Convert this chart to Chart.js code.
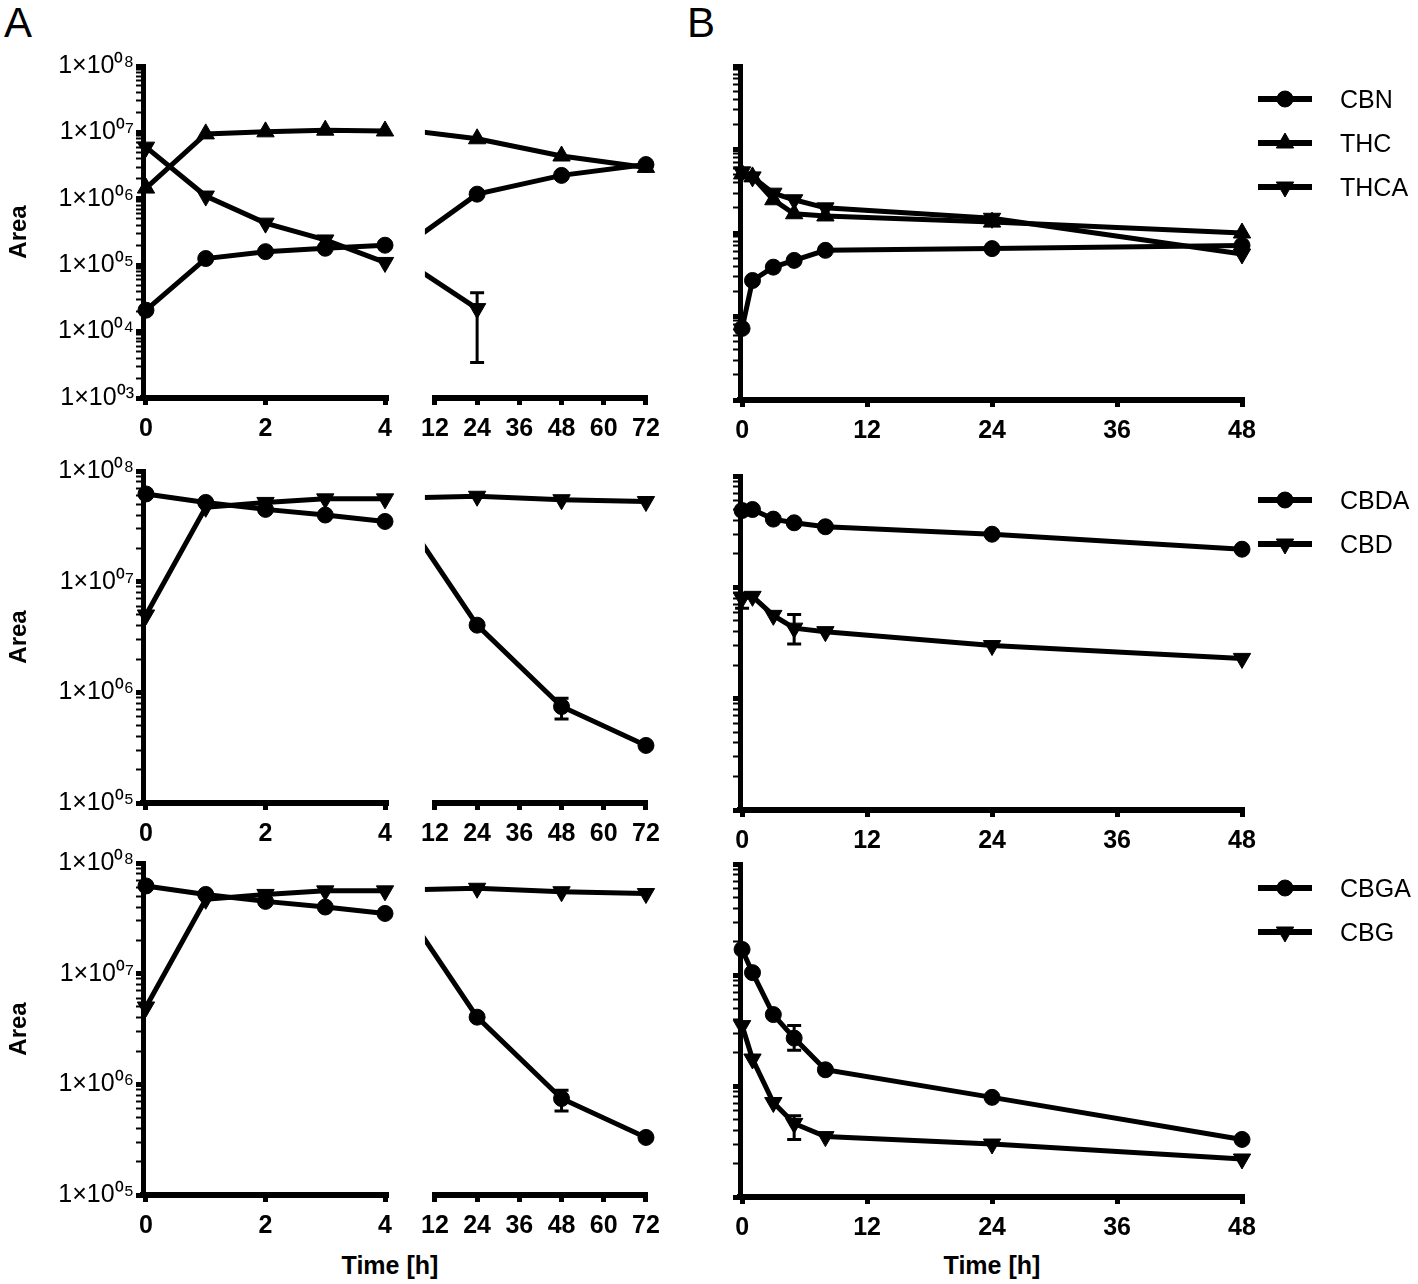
<!DOCTYPE html>
<html>
<head>
<meta charset="utf-8">
<script src="https://cdn.jsdelivr.net/npm/chart.js@4.4.1/dist/chart.umd.min.js"></script>
<style>
  body { margin: 0; width: 1418px; height: 1284px; background: #fff; position: relative; overflow: hidden;
         font-family: 'Liberation Sans', Arial, sans-serif; color: #000; }
  .box { position: absolute; }
  .letter { position: absolute; font-size: 42px; line-height: 42px; }
  .xtitle { position: absolute; width: 200px; text-align: center; font-family: 'Liberation Sans Narrow', 'Liberation Sans', sans-serif;
            font-weight: bold; font-size: 25px; line-height: 28px; }
  .legend-item { position: absolute; height: 30px; display: flex; align-items: center; font-size: 25px;
                 font-family: 'Liberation Sans Narrow', 'Liberation Sans', sans-serif; white-space: nowrap; }
  .legend-item canvas { margin-right: 27px; }
</style>
</head>
<body>
<div class="letter" style="left:4px; top:2px;">A</div>
<div class="letter" style="left:687px; top:2px;">B</div>
<div class="xtitle" style="left:290px; top:1251px;">Time [h]</div>
<div class="xtitle" style="left:892px; top:1251px;">Time [h]</div>

<script>
// time points (h)
const timeA = [0, 1, 2, 3, 4, 24, 48, 72];
const timeB = [0, 1, 3, 5, 8, 24, 48];

// x tick labels
const ticksAshort = [0, 2, 4];
const ticksAlong = [12, 24, 36, 48, 60, 72];
const ticksB = [0, 12, 24, 36, 48];

// row 1 - panel A
const cbnA = [2.1e4, 1.26e5, 1.6e5, 1.8e5, 2.0e5, 1.15e6, 2.2e6, 3.2e6];
const thcA = [1.45e6, 9.5e6, 1.02e7, 1.08e7, 1.05e7, 7.8e6, 4.3e6, 2.9e6];
const thcaA = [6.0e6, 1.1e6, 4.3e5, 2.4e5, 1.1e5, 2.2e4, null, null];
const thcaAlo = [null, null, null, null, null, 3.4e3, null, null];
const thcaAhi = [null, null, null, null, null, 3.8e4, null, null];

// row 1 - panel B
const cbnB = [7.2e4, 2.7e5, 3.9e5, 4.7e5, 6.2e5, 6.5e5, 7.1e5];
const thcB = [5.1e6, 4.7e6, 2.5e6, 1.7e6, 1.6e6, 1.35e6, 1.0e6];
const thcaB = [5.4e6, 4.7e6, 3.0e6, 2.5e6, 2.0e6, 1.5e6, 5.6e5];

// row 2 - panel A
const cbdaA = [6.2e7, 5.2e7, 4.5e7, 4.0e7, 3.5e7, 4.0e6, 7.4e5, 3.3e5];
const cbdaAlo = [null, null, null, null, null, null, 5.7e5, null];
const cbdaAhi = [null, null, null, null, null, null, 8.8e5, null];
const cbdA = [5.0e6, 4.7e7, 5.2e7, 5.6e7, 5.6e7, 5.8e7, 5.4e7, 5.2e7];

// row 2 - panel B
const cbdaB = [4.9e7, 5.0e7, 4.1e7, 3.8e7, 3.5e7, 3.0e7, 2.2e7];
const cbdB = [8.0e6, 8.3e6, 5.6e6, 4.3e6, 4.0e6, 3.0e6, 2.3e6];
const cbdBlo = [6.5e6, null, null, 3.1e6, null, null, null];
const cbdBhi = [8.8e6, null, null, 5.7e6, null, null, null];

// row 3 - panel A (same curves as row 2 in the figure)
const cbgaA = [6.2e7, 5.2e7, 4.5e7, 4.0e7, 3.5e7, 4.0e6, 7.4e5, 3.3e5];
const cbgaAlo = [null, null, null, null, null, null, 5.7e5, null];
const cbgaAhi = [null, null, null, null, null, null, 8.8e5, null];
const cbgA = [5.0e6, 4.7e7, 5.2e7, 5.6e7, 5.6e7, 5.8e7, 5.4e7, 5.2e7];

// row 3 - panel B
const cbgaB = [1.7e7, 1.05e7, 4.4e6, 2.7e6, 1.4e6, 7.9e5, 3.3e5];
const cbgaBlo = [null, null, null, 2.1e6, null, null, null];
const cbgaBhi = [null, null, null, 3.5e6, null, null, null];
const cbgB = [3.5e6, 1.75e6, 7.1e5, 4.6e5, 3.5e5, 3.0e5, 2.2e5];
const cbgBlo = [null, null, null, 3.3e5, null, null, null];
const cbgBhi = [null, null, null, 5.4e5, null, null, null];

const SUP = '⁰¹²³⁴⁵⁶⁷⁸⁹';
const narrow = "'Liberation Sans Narrow', 'Liberation Sans', sans-serif";

function isPow10(v) {
  const l = Math.log10(v);
  return Math.abs(l - Math.round(l)) < 1e-9;
}

function powLabel(v) {
  const e = String(Math.round(Math.log10(v))).padStart(2, '0');
  return '1×10' + e.split('').map(d => SUP[+d]).join('');
}

function logTicks(lo, hi) {
  const out = [];
  for (let e = lo; e < hi; e++) {
    for (let m = 1; m < 10; m++) out.push({ value: Number(m + 'e' + e), major: m === 1 });
  }
  out.push({ value: Number('1e' + hi), major: true });
  return out;
}

function points(times, vals, lo, hi, keep) {
  return times.map((t, i) => ({ x: t, y: vals[i], lo: lo ? lo[i] : null, hi: hi ? hi[i] : null }))
    .filter(p => keep(p.x));
}

function series(label, style, times, vals, lo, hi, keep, clip) {
  const tri = style !== 'circle';
  return {
    label: label,
    data: points(times, vals, lo, hi, keep),
    borderColor: '#000',
    backgroundColor: '#000',
    borderWidth: 5,
    pointStyle: tri ? 'triangle' : 'circle',
    rotation: style === 'down' ? 180 : 0,
    pointRadius: tri ? 10 : 8,
    pointBorderWidth: 1,
    tension: 0,
    spanGaps: false,
    clip: clip === undefined ? false : clip
  };
}

const errorBars = {
  id: 'errorBars',
  beforeDatasetsDraw(chart) {
    const { ctx, scales: { x, y }, chartArea } = chart;
    ctx.save();
    ctx.strokeStyle = '#000';
    ctx.lineWidth = 3;
    chart.data.datasets.forEach(ds => {
      ds.data.forEach(p => {
        if (p.lo == null || p.hi == null) return;
        const px = x.getPixelForValue(p.x);
        if (px < chartArea.left - 10 || px > chartArea.right + 10) return;
        const y1 = y.getPixelForValue(p.lo), y2 = y.getPixelForValue(p.hi);
        ctx.beginPath();
        ctx.moveTo(px, y1); ctx.lineTo(px, y2);
        ctx.moveTo(px - 7, y1); ctx.lineTo(px + 7, y1);
        ctx.moveTo(px - 7, y2); ctx.lineTo(px + 7, y2);
        ctx.stroke();
      });
    });
    ctx.restore();
  }
};

// area = [left, top, right, bottom] of the plotting area in page pixels
function makeChart(area, cfg) {
  const yW = cfg.yW, xH = 50, padT = 16, padR = 20, padL = cfg.padL || 0;
  const left = area[0] - yW - padL, top = area[1] - padT;
  const w = area[2] - left + padR, h = area[3] - top + xH;
  const div = document.createElement('div');
  div.className = 'box';
  div.style.left = left + 'px';
  div.style.top = top + 'px';
  const cv = document.createElement('canvas');
  cv.width = w; cv.height = h;
  cv.style.width = w + 'px'; cv.style.height = h + 'px';
  div.appendChild(cv);
  document.body.appendChild(div);

  const yScale = {
    type: 'logarithmic',
    display: cfg.yDisplay,
    min: Number('1e' + cfg.yRange[0]),
    max: Number('1e' + cfg.yRange[1]),
    afterBuildTicks: s => { s.ticks = logTicks(cfg.yRange[0], cfg.yRange[1]); },
    afterFit: s => { s.width = yW; },
    border: { display: true, color: '#000', width: 5 },
    grid: {
      drawOnChartArea: false, drawTicks: true, tickLength: 7, tickColor: '#000',
      tickWidth: c => (c.tick && c.tick.major ? 5 : 2)
    },
    ticks: {
      autoSkip: false, color: '#000', padding: 2,
      font: { family: "'Liberation Sans', Arial, sans-serif", size: 25 },
      callback: v => (cfg.yLabels && isPow10(v) ? powLabel(v) : '')
    },
    title: {
      display: !!cfg.yTitle, text: cfg.yTitle || '', color: '#000', padding: { top: 2, bottom: 0 },
      font: { family: "'Liberation Sans', Arial, sans-serif", size: 24, weight: 'bold' }
    }
  };

  const xScale = {
    type: 'linear',
    min: cfg.xRange[0],
    max: cfg.xRange[1],
    afterBuildTicks: s => { s.ticks = cfg.xTicks.map(v => ({ value: v })); },
    afterFit: s => { s.height = xH; },
    border: { display: true, color: '#000', width: 6 },
    grid: { drawOnChartArea: false, drawTicks: true, tickLength: 7, tickWidth: 5, tickColor: '#000' },
    ticks: {
      autoSkip: false, color: '#000', padding: 9, maxRotation: 0,
      font: { family: narrow, size: 25, weight: 'bold' }
    }
  };

  return new Chart(cv, {
    type: 'line',
    data: { datasets: cfg.datasets },
    options: {
      responsive: false,
      animation: false,
      devicePixelRatio: 1,
      layout: { padding: { top: padT, right: padR, left: padL, bottom: 0 } },
      plugins: { legend: { display: false }, tooltip: { enabled: false } },
      scales: { x: xScale, y: yScale }
    },
    plugins: [errorBars]
  });
}

function legend(chart, x, y0, gap) {
  chart.data.datasets.forEach((ds, i) => {
    const row = document.createElement('div');
    row.className = 'legend-item';
    row.style.left = x + 'px';
    row.style.top = (y0 + i * gap - 15) + 'px';
    const c = document.createElement('canvas');
    c.width = 56; c.height = 30;
    const g = c.getContext('2d');
    g.strokeStyle = '#000';
    g.lineWidth = 6;
    g.beginPath(); g.moveTo(1, 15); g.lineTo(55, 15); g.stroke();
    g.fillStyle = '#000';
    g.lineWidth = 1;
    Chart.helpers.drawPoint(g, { pointStyle: ds.pointStyle, rotation: ds.rotation, radius: ds.pointRadius, borderWidth: 1 }, 28, 15);
    row.appendChild(c);
    row.appendChild(document.createTextNode(ds.label));
    document.body.appendChild(row);
  });
}

const early = t => t <= 4;
const late = t => t >= 4;
const all = () => true;
const lateClip = { left: 10, right: 12, top: 12, bottom: 12 };

const rows = [
  { top: 65, bottom: 398, bTop: 65, bBottom: 400, aRange: [3, 8], bRange: [4, 8],
    a: (keep, clip) => [
      series('CBN', 'circle', timeA, cbnA, null, null, keep, clip),
      series('THC', 'up', timeA, thcA, null, null, keep, clip),
      series('THCA', 'down', timeA, thcaA, thcaAlo, thcaAhi, keep, clip)
    ],
    b: [
      series('CBN', 'circle', timeB, cbnB, null, null, all),
      series('THC', 'up', timeB, thcB, null, null, all),
      series('THCA', 'down', timeB, thcaB, null, null, all)
    ],
    legendY: 99 },
  { top: 470, bottom: 803, bTop: 475, bBottom: 810, aRange: [5, 8], bRange: [5, 8],
    a: (keep, clip) => [
      series('CBDA', 'circle', timeA, cbdaA, cbdaAlo, cbdaAhi, keep, clip),
      series('CBD', 'down', timeA, cbdA, null, null, keep, clip)
    ],
    b: [
      series('CBDA', 'circle', timeB, cbdaB, null, null, all),
      series('CBD', 'down', timeB, cbdB, cbdBlo, cbdBhi, all)
    ],
    legendY: 500 },
  { top: 862, bottom: 1195, bTop: 863, bBottom: 1197, aRange: [5, 8], bRange: [5, 8],
    a: (keep, clip) => [
      series('CBGA', 'circle', timeA, cbgaA, cbgaAlo, cbgaAhi, keep, clip),
      series('CBG', 'down', timeA, cbgA, null, null, keep, clip)
    ],
    b: [
      series('CBGA', 'circle', timeB, cbgaB, cbgaBlo, cbgaBhi, all),
      series('CBG', 'down', timeB, cbgB, cbgBlo, cbgBhi, all)
    ],
    legendY: 888 }
];

rows.forEach(r => {
  // panel A, 0-4 h
  makeChart([143, r.top, 388, r.bottom], {
    yW: 140, yDisplay: true, yLabels: true, yTitle: 'Area', yRange: r.aRange,
    xRange: [-0.05, 4.05], xTicks: ticksAshort, datasets: r.a(early, false)
  });
  // panel A, 12-72 h
  makeChart([432, r.top, 649, r.bottom], {
    yW: 0, padL: 20, yDisplay: false, yLabels: false, yRange: r.aRange,
    xRange: [12, 72.5], xTicks: ticksAlong, datasets: r.a(late, lateClip)
  });
  // panel B
  const chB = makeChart([740, r.bTop, 1245, r.bBottom], {
    yW: 40, yDisplay: true, yLabels: false, yRange: r.bRange,
    xRange: [-0.2, 48.2], xTicks: ticksB, datasets: r.b
  });
  legend(chB, 1257, r.legendY, 44);
});
</script>
</body>
</html>
